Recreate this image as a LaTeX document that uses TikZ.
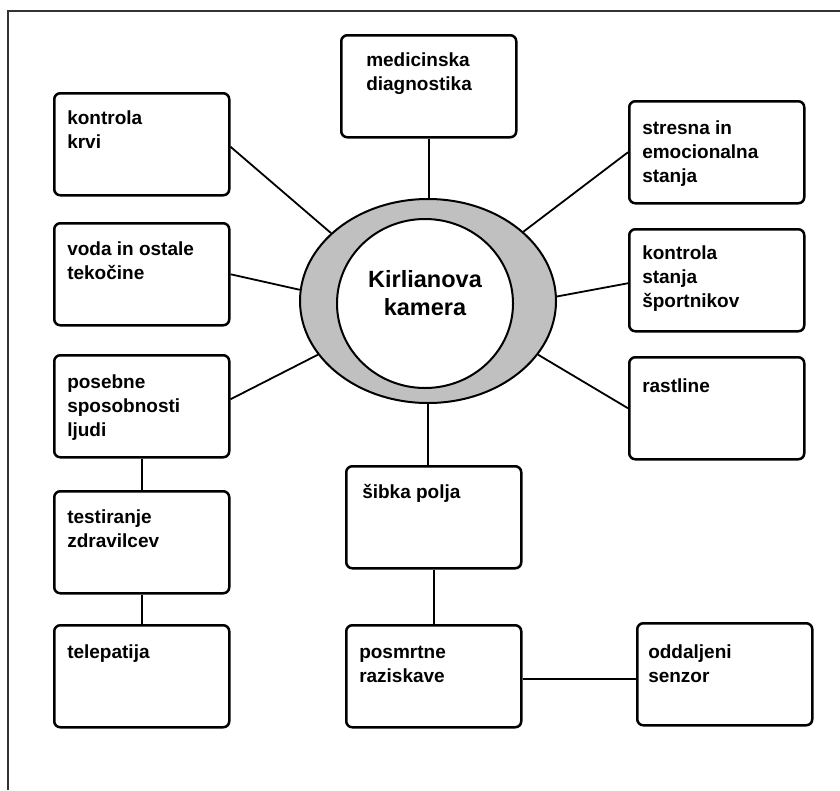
\documentclass[tikz,border=0pt]{standalone}
\usepackage{fontspec}
\setmainfont{Liberation Sans}
\usetikzlibrary{shapes.geometric}
\definecolor{ringgray}{HTML}{C0C0C0}
\newcommand{\boxtxt}[3][13pt]{\parbox[c][102pt][t]{175pt}{\fontsize{19}{24}\bfseries\selectfont\raggedright\leftskip=#1\relax\rule{0pt}{#2}#3}}
\begin{document}
\begin{tikzpicture}[x=1pt,y=-1pt,
  boxnode/.style={draw, line width=2.5pt, rounded corners=6pt, inner sep=0pt, anchor=north west},
  conn/.style={line width=1.8pt},
  ring/.style={ellipse, draw, line width=2pt, inner sep=0pt}]
\useasboundingbox (0,0) rectangle (840,790);
\fill[white] (0,0) rectangle (840,790);
\draw[line width=1.2pt, black!80] (8,790) -- (8,11) -- (840,11);

% boxes
\node[boxnode] (med) at (340,34) {\boxtxt[25pt]{31pt}{medicinska\\diagnostika}};
\node[boxnode] (krvi) at (53,92) {\boxtxt{31pt}{kontrola\\krvi}};
\node[boxnode] (voda) at (53,222) {\boxtxt{32pt}{voda in ostale\\tekočine}};
\node[boxnode] (pos) at (53,354) {\boxtxt{33pt}{posebne\\sposobnosti\\ljudi}};
\node[boxnode] (test) at (53,490) {\boxtxt{32pt}{testiranje\\zdravilcev}};
\node[boxnode] (tele) at (53,624) {\boxtxt{33pt}{telepatija}};
\node[boxnode] (stres) at (628,100) {\boxtxt{33pt}{stresna in\\emocionalna\\stanja}};
\node[boxnode] (sport) at (628,228) {\boxtxt{30pt}{kontrola\\stanja\\športnikov}};
\node[boxnode] (rast) at (628,356) {\boxtxt{35pt}{rastline}};
\node[boxnode] (sibka) at (345,465) {\boxtxt[16pt]{32pt}{šibka polja}};
\node[boxnode] (posm) at (345,624) {\boxtxt{33pt}{posmrtne\\raziskave}};
\node[boxnode] (odd) at (636,622) {\boxtxt[11pt]{35pt}{oddaljeni\\senzor}};

% camera
\node[ring, fill=ringgray, minimum width=256pt, minimum height=204pt] (cam) at (428,301) {};
\node[ring, fill=white, minimum width=176pt, minimum height=169pt] (lens) at (425,303.5) {};
\node[align=center, inner sep=0pt, font=\fontsize{23.5}{28}\bfseries\selectfont] (title) at (425,293) {Kirlianova\\kamera};

% connectors
\draw[conn] (med.south) -- (med.south |- cam.north);
\draw[conn] ([yshift=-2.5pt]krvi.east) -- (cam.145.5);
\draw[conn] (voda.east) -- (cam.175.5);
\draw[conn] ([yshift=7pt]pos.east) -- (cam.206.8);
\draw[conn] (stres.west) -- (cam.36.3);
\draw[conn] ([yshift=-3pt]sport.west) -- (cam.2.7);
\draw[conn] (rast.west) -- (cam.334.3);
\draw[conn] (cam.south) -- (cam.south |- sibka.north);
\draw[conn] (pos.south) -- (test.north);
\draw[conn] (test.south) -- (tele.north);
\draw[conn] (sibka.south) -- (posm.north);
\draw[conn] ([yshift=-3pt]posm.east) -- ([yshift=-3pt]posm.east -| odd.west);
\end{tikzpicture}
\end{document}
